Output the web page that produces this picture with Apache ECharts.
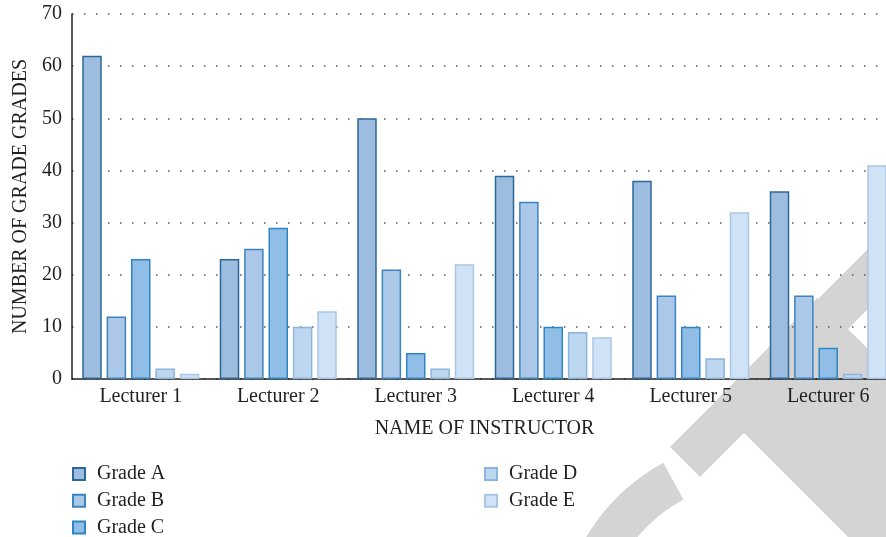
<!DOCTYPE html>
<html>
<head>
<meta charset="utf-8">
<script src="https://cdn.jsdelivr.net/npm/echarts@6/dist/echarts.min.js"></script>
<style>
  html, body { margin: 0; padding: 0; background: #fff; }
  #chart { width: 886px; height: 537px; }
</style>
</head>
<body>
<div id="chart"></div>
<script>
  var lecturers = ['Lecturer 1', 'Lecturer 2', 'Lecturer 3', 'Lecturer 4', 'Lecturer 5', 'Lecturer 6'];
  var gradeNames = ['Grade A', 'Grade B', 'Grade C', 'Grade D', 'Grade E'];
  var gradeA = [62, 23, 50, 39, 38, 36];
  var gradeB = [12, 25, 21, 34, 16, 16];
  var gradeC = [23, 29, 5, 10, 10, 6];
  var gradeD = [2, 10, 2, 9, 4, 1];
  var gradeE = [1, 13, 22, 8, 32, 41];
  var yTicks = [0, 10, 20, 30, 40, 50, 60, 70];

  var fills = ['#9dbde0', '#abc8e8', '#91bee6', '#bed7f0', '#d0e2f5'];
  var borders = ['#2c6896', '#3c83bf', '#2f86c3', '#8cb4dc', '#aac6e6'];
  var serif = '"Liberation Serif", "DejaVu Serif", serif';
  var ink = '#231f20';

  var allData = [gradeA, gradeB, gradeC, gradeD, gradeE];
  var seriesArr = [];
  for (var i = 0; i < gradeNames.length; i++) {
    seriesArr.push({
      name: gradeNames[i],
      type: 'bar',
      data: allData[i],
      barWidth: 19.5,
      barGap: '25%',
      itemStyle: {
        color: fills[i],
        borderColor: borders[i],
        borderWidth: 1.5
      }
    });
  }

  // grey watermark in the lower right corner
  var wm = '#d4d4d4';
  var watermark = [
    { type: 'polygon', z: -10, silent: true,
      shape: { points: [[670, 447], [700, 477], [1000, 177], [970, 147]] },
      style: { fill: wm } },
    { type: 'polygon', z: -10, silent: true,
      shape: { points: [[817, 298], [714, 403], [1014, 703], [1117, 598]] },
      style: { fill: wm } },
    { type: 'sector', z: -10, silent: true,
      shape: { cx: 760, cy: 640, r: 202, r0: 160, startAngle: Math.PI, endAngle: 241.4 * Math.PI / 180, clockwise: true },
      style: { fill: wm } }
  ];

  var legendText = { fontFamily: serif, fontSize: 20, color: ink, padding: [0, 0, 0, 7] };

  var chart = echarts.init(document.getElementById('chart'), null, { renderer: 'canvas' });
  var option = {
    backgroundColor: '#ffffff',
    animation: false,
    textStyle: { fontFamily: serif, color: ink },
    graphic: watermark,
    grid: {
      left: 72,
      top: 14,
      width: 825,
      bottom: 158,
      containLabel: false,
      outerBoundsMode: 'none'
    },
    legend: [{
      data: gradeNames.slice(0, 3),
      orient: 'vertical',
      left: 72,
      top: 464,
      width: 200,
      height: 100,
      padding: 0,
      itemWidth: 12,
      itemHeight: 12,
      itemGap: 6.75,
      icon: 'rect',
      textStyle: legendText
    }, {
      data: gradeNames.slice(3),
      orient: 'vertical',
      left: 484,
      top: 464,
      width: 200,
      height: 100,
      padding: 0,
      itemWidth: 12,
      itemHeight: 12,
      itemGap: 6.75,
      icon: 'rect',
      textStyle: legendText
    }],
    xAxis: {
      type: 'category',
      data: lecturers,
      name: 'NAME OF INSTRUCTOR',
      nameLocation: 'middle',
      nameGap: 40,
      nameTextStyle: { fontFamily: serif, fontSize: 20, color: ink },
      axisLine: { show: true, lineStyle: { color: ink, width: 1.5 } },
      axisTick: { show: false },
      axisLabel: { fontFamily: serif, fontSize: 20, color: ink, margin: 8 },
      splitLine: { show: false }
    },
    yAxis: {
      type: 'value',
      min: yTicks[0],
      max: yTicks[yTicks.length - 1],
      interval: 10,
      name: 'NUMBER OF GRADE GRADES',
      nameLocation: 'middle',
      nameGap: 41,
      nameTextStyle: { fontFamily: serif, fontSize: 20, color: ink },
      axisLine: { show: true, lineStyle: { color: ink, width: 1.5 } },
      axisTick: { show: false },
      axisLabel: { fontFamily: serif, fontSize: 20, color: ink, margin: 10 },
      splitLine: {
        show: true,
        lineStyle: { color: '#555555', width: 1.5, type: [1.5, 10.5] }
      }
    },
    series: seriesArr
  };
  chart.setOption(option);
</script>
</body>
</html>
